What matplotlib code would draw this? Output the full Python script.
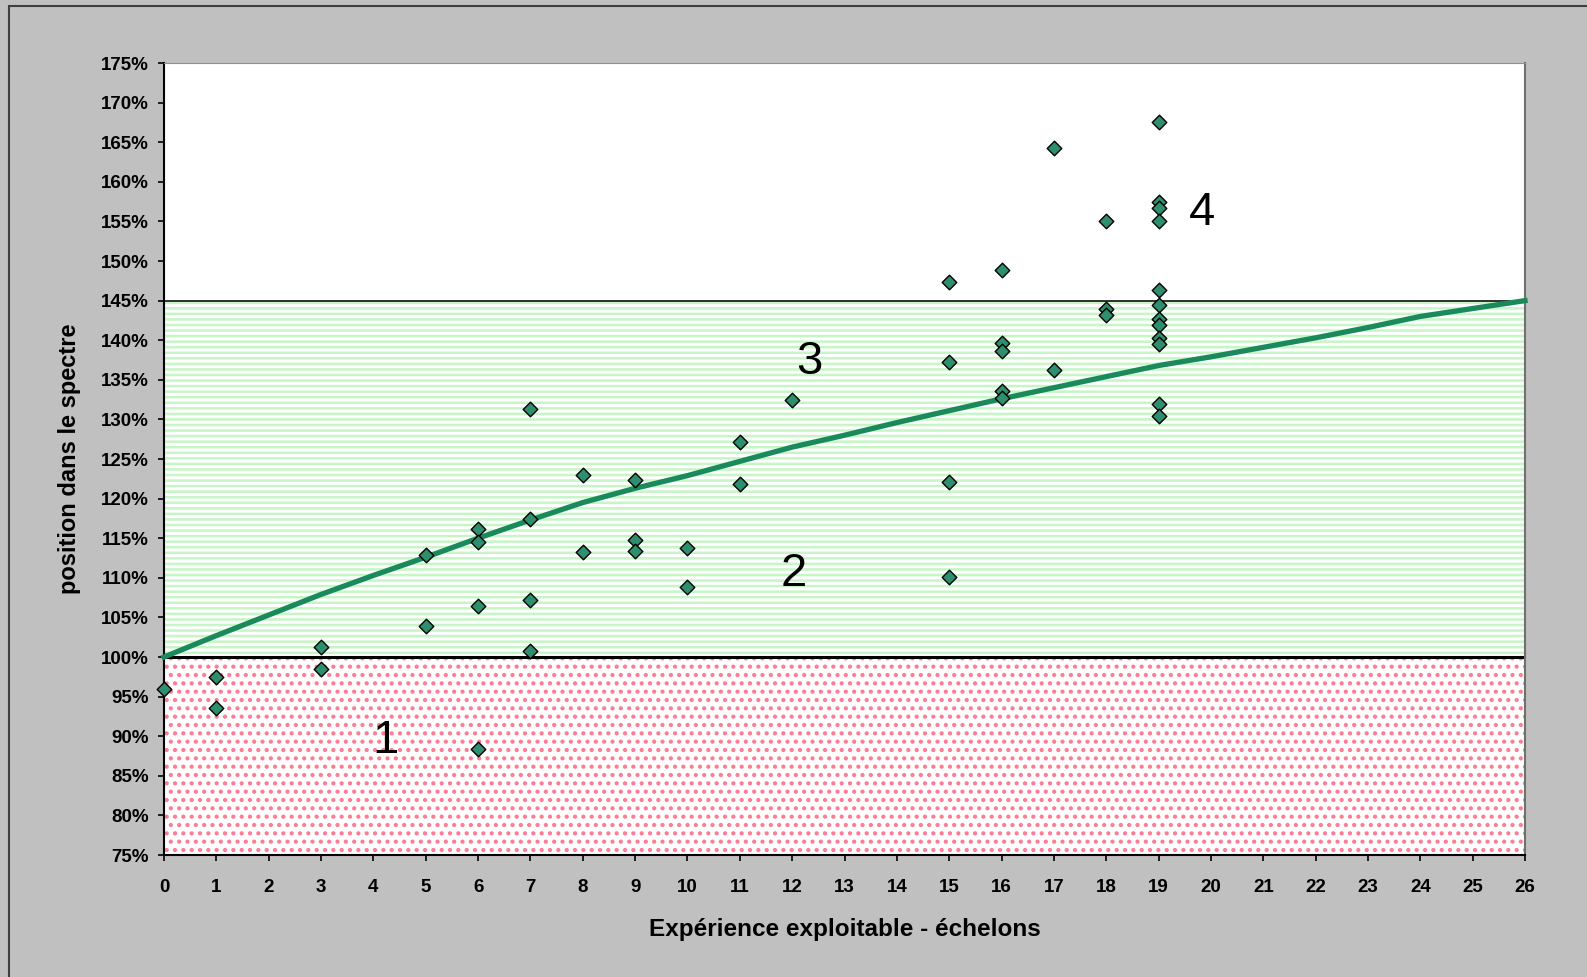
import numpy as np
import matplotlib as mpl
mpl.use('Agg')
import matplotlib.pyplot as plt
from matplotlib.patches import Rectangle
from matplotlib.ticker import FuncFormatter, MultipleLocator

# 
# Data
# scatter points: echelon, position (%)
pts_x = [0, 1, 1, 3, 3, 5, 5, 6, 6, 6, 6, 7, 7, 7, 7, 8, 8, 9, 9, 9, 10, 10, 11, 11, 12,
         15, 15, 15, 15, 16, 16, 16, 16, 16, 17, 17, 18, 18, 18,
         19, 19, 19, 19, 19, 19, 19, 19, 19, 19, 19, 19]
pts_y = [96.0, 97.5, 93.5, 101.3, 98.5, 112.9, 103.9, 116.1, 114.5, 106.5, 88.4,
         131.3, 117.4, 107.2, 100.8, 123.0, 113.2, 122.3, 114.8, 113.4, 113.7, 108.8,
         127.2, 121.9, 132.5,
         147.3, 137.2, 122.1, 110.1, 148.9, 139.6, 138.6, 133.6, 132.7, 164.3, 136.3,
         155.0, 144.0, 143.2,
         167.6, 157.5, 156.7, 155.0, 146.3, 144.5, 142.7, 141.9, 140.3, 139.5, 132.0, 130.4]

# reference curve
curve_x = list(range(27))
curve_y = [100.0, 102.7, 105.3, 107.9, 110.3, 112.6, 115.0, 117.3, 119.5, 121.3, 122.9,
           124.7, 126.5, 128.0, 129.6, 131.1, 132.6, 134.0, 135.4, 136.8, 137.9, 139.1,
           140.3, 141.6, 143.0, 144.0, 145.0]

# zone limits and labels
zone_low, zone_mid, zone_high, zone_top = 75, 100, 145, 175
zone_labels = ['1', '2', '3', '4']
zone_lab_x = [4.23, 12.04, 12.33, 19.83]
zone_lab_y = [89.4, 110.5, 137.2, 156.1]

# 
# Figure
plt.rcParams['font.family'] = ['Liberation Sans', 'DejaVu Sans']
plt.rcParams['hatch.linewidth'] = 1.8

fig = plt.figure(figsize=(15.87, 9.77), dpi=100)
fig.patch.set_facecolor('#c0c0c0')
fig.patches.append(Rectangle((9/1587, -0.05), 1.2, 1 - 6/977 + 0.05, transform=fig.transFigure,
                             fill=False, edgecolor='#404040', linewidth=1.5))

ax = fig.add_axes([164/1587, 1 - 855/977, (1525 - 164)/1587, (855 - 63)/977])
ax.set_facecolor('white')
ax.set_xlim(0, 26)
ax.set_ylim(zone_low, zone_top)

# background zones
ax.axhspan(zone_low, zone_mid, facecolor='white', edgecolor='#ff7a92', hatch='..', linewidth=0, zorder=0)
ax.axhspan(zone_mid, zone_high, facecolor='white', edgecolor='#c6f6c6', hatch='---', linewidth=0, zorder=0)
ax.axhline(zone_mid, color='black', linewidth=2.2, zorder=2)
ax.axhline(zone_high, color='#202020', linewidth=1.3, zorder=2)

ax.plot(curve_x, curve_y, color='#1a8a5c', linewidth=3.8, zorder=3, clip_on=False)
ax.scatter(pts_x, pts_y, marker='D', s=55, facecolor='#2e8f6e', edgecolor='black',
           linewidth=1.0, zorder=4, clip_on=False)

for lab, lx, ly in zip(zone_labels, zone_lab_x, zone_lab_y):
    ax.text(lx, ly, lab, fontsize=34, ha='center', va='center', color='black', zorder=5)

# axes styling
ax.xaxis.set_major_locator(MultipleLocator(1))
ax.yaxis.set_major_locator(MultipleLocator(5))
ax.yaxis.set_major_formatter(FuncFormatter(lambda v, p: '%d%%' % v))
ax.tick_params(axis='both', direction='out', length=4, width=1.2, color='black')
ax.tick_params(axis='x', pad=13, labelsize=13.5)
ax.tick_params(axis='y', pad=7, labelsize=13.5)
for lab in ax.get_xticklabels() + ax.get_yticklabels():
    lab.set_fontweight('bold')
ax.spines['left'].set_linewidth(1.5)
ax.spines['bottom'].set_linewidth(1.5)
ax.spines['top'].set_color('#909090')
ax.spines['right'].set_color('#707070')
ax.spines['right'].set_linewidth(1.5)

ax.set_xlabel('Expérience exploitable - échelons', fontsize=17.5, fontweight='bold', labelpad=16)
ax.set_ylabel('position dans le spectre', fontsize=17, fontweight='bold', labelpad=14)

fig.savefig('out.png', dpi=100, facecolor=fig.get_facecolor())
